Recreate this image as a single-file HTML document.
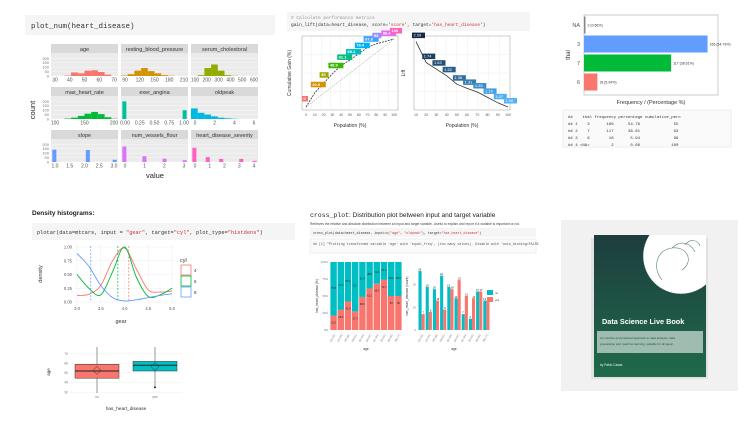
<!DOCTYPE html>
<html><head><meta charset="utf-8"><style>
html,body{margin:0;padding:0;background:#fff;width:750px;height:431px;overflow:hidden}
svg{display:block;font-family:"Liberation Sans",sans-serif}
.mono{font-family:"Liberation Mono",monospace}
.pre text{white-space:pre}
</style></head><body>
<svg id="s" width="750" height="431" viewBox="0 0 750 431">
<!-- Panel 1 -->
<rect x="25" y="15" width="250" height="20" fill="#f5f5f5"/>
<text x="31" y="28" font-size="7.5" class="mono" fill="#333">plot_num(heart_disease)</text>
<g id="p1"></g>
<text x="35" y="110" font-size="7.5" fill="#222" transform="rotate(-90 35 110)" text-anchor="middle">count</text>
<text x="155" y="178" font-size="7.5" fill="#222" text-anchor="middle">value</text>
<!-- Panel 2 -->
<rect x="287" y="12" width="243" height="19" fill="#f5f5f5"/>
<text x="291" y="19" font-size="4.5" class="mono" fill="#999"># Calculate performance metrics</text>
<text x="291" y="26" font-size="4.5" class="mono" fill="#333">gain_lift(data=heart_disease, score='<tspan fill="#c33">score</tspan>', target='<tspan fill="#c33">has_heart_disease</tspan>')</text>
<g id="p2"></g>
<!-- Panel 3 -->
<g id="p3"></g>
<rect x="563" y="110" width="168" height="37" fill="#fafafa" stroke="#eee"/>
<g class="mono pre" font-size="4" fill="#333" xml:space="preserve">
<text x="568" y="118">##    thal frequency percentage cumulative_perc</text>
<text x="568" y="125">## 1    3       166      54.79              55</text>
<text x="568" y="132">## 2    7       117      38.61              93</text>
<text x="568" y="139">## 3    6        18       5.94              99</text>
<text x="568" y="146">## 4 &lt;NA&gt;         2       0.66             100</text>
</g>
<!-- Panel 4 -->
<text x="32" y="215" font-size="6.5" font-weight="bold" fill="#222">Density histograms:</text>
<rect x="32" y="223" width="263" height="17" fill="#f5f5f5"/>
<text x="37" y="234" font-size="5.3" class="mono" fill="#333">plotar(data=mtcars, input = <tspan fill="#c33">"gear"</tspan>, target=<tspan fill="#c33">"cyl"</tspan>, plot_type=<tspan fill="#c33">"histdens"</tspan>)</text>
<g id="p4"></g>
<g id="p5"></g>
<!-- Panel 5 -->
<text x="310" y="217" font-size="6.5" fill="#222"><tspan font-family="Liberation Mono">cross_plot</tspan>: Distribution plot between input and target variable</text>
<text x="310" y="225" font-size="3.3" fill="#444">Retrieves the relative and absolute distribution between an input and target variable. Useful to explain and report if a variable is important or not.</text>
<rect x="310" y="228" width="226" height="9" fill="#f5f5f5"/>
<text x="313" y="234" font-size="3.3" class="mono" fill="#333">cross_plot(data=heart_disease, input=c(<tspan fill="#c33">"age"</tspan>, <tspan fill="#c33">"oldpeak"</tspan>), target=<tspan fill="#c33">"has_heart_disease"</tspan>)</text>
<rect x="310" y="239" width="226" height="14" fill="#fafafa" stroke="#eee"/>
<text x="313" y="245" font-size="3.3" class="mono" fill="#555">## [1] "Plotting transformed variable 'age' with 'equal_freq', (too many values). Disable with 'auto_binning=FALSE</text>
<g id="p6"></g>
<!-- Book -->
<rect x="561" y="220" width="177" height="171" fill="#f1f1f1"/>
<rect x="591" y="238" width="117" height="141" fill="#d9d9d9" opacity="0.6"/>
<defs><linearGradient id="bk" x1="0" y1="0" x2="0" y2="1"><stop offset="0" stop-color="#1e3d3e"/><stop offset="1" stop-color="#1f6a4a"/></linearGradient>
<clipPath id="bc"><rect x="594" y="235" width="112" height="142"/></clipPath></defs>
<rect x="594" y="235" width="112" height="142" fill="url(#bk)"/>
<circle cx="681" cy="256" r="38" fill="#fff" clip-path="url(#bc)"/>
<circle cx="681" cy="256" r="38" fill="none" stroke="#2c5b4c" stroke-width="0.5" clip-path="url(#bc)"/>
<path d="M662 280 C652 268 656 250 672 248 C688 246 694 262 682 270 M672 248 C680 240 690 242 695 252 M685 245 C690 238 698 240 700 246" fill="none" stroke="#5a7f72" stroke-width="0.6"/>
<text x="602" y="324" font-size="7.3" font-weight="bold" fill="#fff">Data Science Live Book</text>
<rect x="597" y="331" width="106" height="22" fill="#b5ccc3" opacity="0.85"/>
<text x="600" y="339" font-size="3" fill="#2f4f45">An intuitive and practical approach to data analysis, data</text>
<text x="600" y="345" font-size="3" fill="#2f4f45">preparation and machine learning, suitable for all ages!</text>
<text x="600" y="366" font-size="3.2" fill="#dfe">by Pablo Casas</text>
</svg>
<script>
const NS="http://www.w3.org/2000/svg";
function E(p,t,a,txt){const e=document.createElementNS(NS,t);for(const k in a)e.setAttribute(k,a[k]);if(txt!==undefined)e.textContent=txt;p.appendChild(e);return e;}

// ---------- Panel 1 data ----------
const facetNames=["age","resting_blood_pressure","serum_cholestoral","max_heart_rate","exer_angina","oldpeak","slope","num_vessels_flour","heart_disease_severity"];
const facetColors=["#f8766d","#d39200","#93aa00","#00ba38","#00c19f","#00b9e3","#619cff","#db72fb","#ff61c3"];
const facetTicks=[["30","40","50","60","70"],["90","120","150","180","210"],["100","200","300","400","500","600"],["100","150","200"],["0.00","0.25","0.50","0.75","1.00"],["0","2","4","6"],["1.0","1.5","2.0","2.5","3.0"],["0","1","2","3"],["0","1","2","3","4"]];
const facetCounts=[
 [0,0,5,40,30,60,65,45,15,0],
 [5,20,60,90,55,30,10,3,0,0],
 [0,10,90,130,60,10,2,0,0,0],
 [0,0,5,15,35,60,80,55,20,3],
 [200,0,0,0,0,0,0,0,0,100],
 [120,70,50,30,15,8,3,0,0,0],
 [140,0,0,0,0,135,0,0,0,25],
 [175,0,0,65,0,0,38,0,0,20],
 [160,0,55,0,35,0,0,35,0,13]];
const facetBarW=[1,1,1,1,0.6,1,0.6,0.6,0.6];
const yTicks1=["0","50","100","150","200"];
const p1=document.getElementById('p1');
const colX=[51,121,191],rowY=[44,87,130],fw=67,pH=23;
facetNames.forEach((n,i)=>{
 const x0=colX[i%3],y0=rowY[Math.floor(i/3)];
 E(p1,'rect',{x:x0,y:y0,width:fw,height:9,fill:'#d9d9d9'});
 E(p1,'text',{x:x0+fw/2,y:y0+6.8,'font-size':5.5,'text-anchor':'middle',fill:'#333'},n);
 E(p1,'rect',{x:x0,y:y0+9,width:fw,height:pH,fill:'#ebebeb'});
 const ys=v=>y0+9+pH-v/260*pH;
 yTicks1.forEach(t=>E(p1,'line',{x1:x0,x2:x0+fw,y1:ys(+t),y2:ys(+t),stroke:'#fff','stroke-width':0.4}));
 const c=facetCounts[i],bw=fw/c.length;
 c.forEach((v,j)=>{if(!v)return;const w=bw*facetBarW[i];
  const r=E(p1,'rect',{x:x0+j*bw+(bw-w)/2,y:ys(v),width:w,height:y0+9+pH-ys(v),fill:facetColors[i]});
  });
 const t=facetTicks[i];
 t.forEach((s,k)=>{const tx=x0+4+k*(fw-8)/(t.length-1);
  E(p1,'text',{x:tx,y:y0+37.5,'font-size':5,'text-anchor':'middle',fill:'#555'},s);});
 if(i%3==0) yTicks1.forEach((s,k)=>E(p1,'text',{x:x0-2,y:ys(+s)+1.5,'font-size':4,'text-anchor':'end',fill:'#777'},s));
});

// ---------- Panel 2 data ----------
const gainPop=[0,10,20,30,40,50,60,70,80,90,100];
const gainVals=[0,20.9,35,48.9,61.1,69.1,78.4,87.8,93,96.4,100];
const gainLabels=["0","20.9","35","48.9","61.1","69.1","78.4","87.8","93","96.4","100"];
const gainColors=["#f8766d","#d89000","#a3a500","#39b600","#00bf7d","#00bfc4","#00b0f6","#35a2ff","#9590ff","#e76bf3","#ff62bc"];
const liftPop=[10,20,30,40,50,60,70,80,90,100];
const liftVals=[2.09,1.74,1.63,1.52,1.38,1.31,1.25,1.16,1.07,1];
const liftColors=["#132b43","#1d3f5e","#244e72","#2a5d87","#316d9c","#387db2","#3e8dc8","#469ede","#4eb0f4","#56b1f7"];
const p2=document.getElementById('p2');
function plotFrame(g,x,y,w,h,nx,ny){E(g,'rect',{x,y,width:w,height:h,fill:'#fff',stroke:'#999','stroke-width':0.5});
 for(let i=1;i<nx;i++)E(g,'line',{x1:x+i*w/nx,x2:x+i*w/nx,y1:y,y2:y+h,stroke:'#eee','stroke-width':0.5});
 for(let i=1;i<ny;i++)E(g,'line',{x1:x,x2:x+w,y1:y+i*h/ny,y2:y+i*h/ny,stroke:'#eee','stroke-width':0.5});}
{const X=v=>306+v/100*88,Y=v=>107-v/100*68;
 plotFrame(p2,302,36,96,74,10,4);
 E(p2,'line',{x1:X(0),y1:Y(0),x2:X(100),y2:Y(100),stroke:'#888','stroke-width':0.5,'stroke-dasharray':'1.5,1'});
 E(p2,'polyline',{points:gainPop.map((p,i)=>X(p)+','+Y(gainVals[i])).join(' '),fill:'none',stroke:'#333','stroke-width':0.8,'stroke-dasharray':'2,1'});
 gainPop.forEach((p,i)=>{const lx=X(p)-3,ly=Y(gainVals[i])-7;
  const r=E(p2,'rect',{x:lx-1,y:ly-4,width:gainLabels[i].length*3+3,height:5.5,fill:gainColors[i]});
  
  E(p2,'text',{x:lx+0.5,y:ly,'font-size':4,fill:'#fff','font-weight':'bold'},gainLabels[i]);});
 gainPop.forEach(p=>E(p2,'text',{x:X(p),y:116,'font-size':3.5,'text-anchor':'middle',fill:'#555'},p));
 E(p2,'text',{x:350,y:127,'font-size':5,'text-anchor':'middle',fill:'#333'},'Population (%)');
 E(p2,'text',{x:291,y:73,'font-size':5,'text-anchor':'middle',fill:'#333',transform:'rotate(-90 291 73)'},'Cumulative Gain (%)');}
{const X=v=>416+(v-10)/90*92,Y=v=>107-(v-1)/1.1*66;
 plotFrame(p2,414,36,96,74,9,4);
 E(p2,'polyline',{points:liftPop.map((p,i)=>X(p)+','+Y(liftVals[i])).join(' '),fill:'none',stroke:'#333','stroke-width':0.8});
 liftPop.forEach((p,i)=>{const lx=X(p)-3,ly=Y(liftVals[i])-5;const s=liftVals[i].toFixed(2);
  const r=E(p2,'rect',{x:lx-1,y:ly-4,width:13,height:5.5,fill:liftColors[i]});
  
  E(p2,'text',{x:lx+0.5,y:ly,'font-size':4,fill:'#fff'},s);});
 liftPop.forEach(p=>E(p2,'text',{x:X(p),y:116,'font-size':3.5,'text-anchor':'middle',fill:'#555'},p));
 E(p2,'text',{x:462,y:127,'font-size':5,'text-anchor':'middle',fill:'#333'},'Population (%)');
 E(p2,'text',{x:405,y:73,'font-size':5,'text-anchor':'middle',fill:'#333',transform:'rotate(-90 405 73)'},'Lift');}

// ---------- Panel 3 data ----------
const thalCats=["NA","3","7","6"];
const thalFreq=[2,166,117,18];
const thalLabels=["2 (0.66%)","166 (54.79%)","117 (38.61%)","18 (5.94%)"];
const thalColors=["#888","#619cff","#00ba38","#f8766d"];
const p3=document.getElementById('p3');
{const x0=584,y0=15,w=134,h=80,X=v=>x0+v/180*w,bh=17;
 E(p3,'rect',{x:x0,y:y0,width:w,height:h,fill:'#fff',stroke:'#aaa','stroke-width':0.6});
 thalCats.forEach((c,i)=>{const yc=y0+10+i*19;
  const r=E(p3,'rect',{x:x0,y:yc-bh/2,width:Math.max(X(thalFreq[i])-x0,0.8),height:bh,fill:thalColors[i]});
  
  E(p3,'text',{x:X(thalFreq[i])+2,y:yc+1.5,'font-size':3.5,fill:'#333'},thalLabels[i]);
  E(p3,'text',{x:x0-4,y:yc+2,'font-size':5.5,'text-anchor':'end',fill:'#555'},c);});
 E(p3,'text',{x:570,y:55,'font-size':6,'text-anchor':'middle',fill:'#333',transform:'rotate(-90 570 55)'},'thal');
 E(p3,'text',{x:651,y:104,'font-size':5.5,'text-anchor':'middle',fill:'#333'},'Frequency / (Percentage %)');}

// ---------- Panel 4 density ----------
const gearX=[3.0,3.25,3.5,3.75,4.0,4.25,4.5,4.75,5.0];
const dens4=[0.12,0.14,0.3,0.75,0.98,0.6,0.22,0.18,0.2];
const dens6=[0.5,0.25,0.13,0.55,1.0,0.45,0.1,0.13,0.25];
const dens8=[0.88,0.65,0.3,0.08,0.02,0.04,0.08,0.12,0.15];
const densMeans=[4.09,3.86,3.29];
const densColors=["#f8766d","#00ba38","#619cff"];
const densTicks=["0.00","0.25","0.50","0.75","1.00"];
const gearTicks=["3.0","3.5","4.0","4.5","5.0"];
const p4=document.getElementById('p4');
{const X=v=>77+(v-3)/2*95,Y=v=>302-v*55;
 E(p4,'rect',{x:75,y:244,width:99,height:60,fill:'#fff'});
 densTicks.forEach(t=>{E(p4,'line',{x1:75,x2:174,y1:Y(+t),y2:Y(+t),stroke:'#eee','stroke-width':0.5});
  E(p4,'text',{x:72,y:Y(+t)+1.5,'font-size':4.2,'text-anchor':'end',fill:'#555'},t);});
 gearTicks.forEach(t=>{E(p4,'line',{x1:X(+t),x2:X(+t),y1:244,y2:304,stroke:'#eee','stroke-width':0.5});
  E(p4,'text',{x:X(+t),y:310,'font-size':4.2,'text-anchor':'middle',fill:'#555'},t);});
 [dens4,dens6,dens8].forEach((d,k)=>{
  const P=d.map((v,i)=>[X(gearX[i]),Y(v)]);let s='M'+P[0][0]+','+P[0][1];
  for(let i=0;i<P.length-1;i++){const p0=P[Math.max(i-1,0)],p1=P[i],p2=P[i+1],p3=P[Math.min(i+2,P.length-1)];
   s+=' C'+(p1[0]+(p2[0]-p0[0])/6)+','+(p1[1]+(p2[1]-p0[1])/6)+' '+(p2[0]-(p3[0]-p1[0])/6)+','+(p2[1]-(p3[1]-p1[1])/6)+' '+p2[0]+','+p2[1];}
  const p=E(p4,'path',{d:s,fill:'none',stroke:densColors[k],'stroke-width':0.9});
  
  E(p4,'line',{x1:X(densMeans[k]),x2:X(densMeans[k]),y1:246,y2:302,stroke:densColors[k],'stroke-width':0.7,'stroke-dasharray':'2,1.5'});});
 E(p4,'text',{x:42,y:274,'font-size':5.5,'text-anchor':'middle',fill:'#333',transform:'rotate(-90 42 274)'},'density');
 E(p4,'text',{x:121,y:323,'font-size':5.5,'text-anchor':'middle',fill:'#333'},'gear');
 E(p4,'text',{x:180,y:262,'font-size':5.5,fill:'#333'},'cyl');
 ["4","6","8"].forEach((c,k)=>{E(p4,'rect',{x:181,y:265+k*11,width:10,height:10,fill:'#fff',stroke:densColors[k],'stroke-width':0.8});
  E(p4,'text',{x:194,y:272+k*11,'font-size':4.5,fill:'#333'},c);});}

// ---------- boxplot ----------
const boxCats=["no","yes"];
const boxQ1=[44.5,52],boxMed=[52,58],boxQ3=[59,62],boxMin=[29,35],boxMax=[77,77],boxMean=[52.6,56.6];
const boxColors=["#f8766d","#00bfc4"];
const ageTicks=["30","40","50","60","70"];
const p5=document.getElementById('p5');
{const Y=v=>395-(v-27)/50*48,X=i=>97+i*58;
 ageTicks.forEach(t=>{E(p5,'line',{x1:70,x2:182,y1:Y(+t),y2:Y(+t),stroke:'#eee','stroke-width':0.5});
  E(p5,'text',{x:68,y:Y(+t)+1.2,'font-size':3.3,'text-anchor':'end',fill:'#777'},t);});
 boxCats.forEach((c,i)=>{const x=X(i);
  E(p5,'line',{x1:x,x2:x,y1:Y(boxMax[i]),y2:Y(boxMin[i]),stroke:'#555','stroke-width':0.6});
  const r=E(p5,'rect',{x:x-22,y:Y(boxQ3[i]),width:44,height:Y(boxQ1[i])-Y(boxQ3[i]),fill:boxColors[i],stroke:'#333','stroke-width':0.5});
  
  E(p5,'line',{x1:x-22,x2:x+22,y1:Y(boxMed[i]),y2:Y(boxMed[i]),stroke:'#222','stroke-width':0.9});
  const m=Y(boxMean[i]);E(p5,'path',{d:`M${x} ${m-4}L${x+4} ${m}L${x} ${m+4}L${x-4} ${m}Z`,fill:'none',stroke:'#222','stroke-width':0.5});
  E(p5,'text',{x:x,y:398,'font-size':3.3,'text-anchor':'middle',fill:'#777'},c);});
 E(p5,'circle',{cx:X(1),cy:Y(boxMin[1]),r:1,fill:'#222'});
 E(p5,'text',{x:50,y:372,'font-size':4.5,'text-anchor':'middle',fill:'#333',transform:'rotate(-90 50 372)'},'age');
 E(p5,'text',{x:126,y:410,'font-size':4.8,'text-anchor':'middle',fill:'#333'},'has_heart_disease');}

// ---------- Panel 5 cross plot ----------
const ageBins=["[29,42)","[42,45)","[45,48)","[48,51)","[51,54)","[54,57)","[57,59)","[59,62)","[62,65)","[65,77]"];
const pctYes=[21.2,29.6,41.8,27.3,48.6,61.1,68.2,73.7,50,50];
const cntNo=[26,19,18,24,19,14,7,5,17,13];
const cntYes=[7,8,13,9,18,22,15,14,17,13];
const p6=document.getElementById('p6');
{const x0=330,w=72,y0=262,h=68,bw=w/ageBins.length;
 E(p6,'text',{x:318,y:296,'font-size':3.3,'text-anchor':'middle',fill:'#333',transform:'rotate(-90 318 296)'},'has_heart_disease (%)');
 ["0%","25%","50%","75%","100%"].forEach((t,k)=>E(p6,'text',{x:x0-2,y:y0+h-k*h/4+1,'font-size':2.8,'text-anchor':'end',fill:'#777'},t));
 ageBins.forEach((b,i)=>{const x=x0+i*bw,hy=pctYes[i]/100*h;
  const a=E(p6,'rect',{x:x+0.4,y:y0,width:bw-0.8,height:h-hy,fill:'#00bfc4'});
  
  const r=E(p6,'rect',{x:x+0.4,y:y0+h-hy,width:bw-0.8,height:hy,fill:'#f8766d'});
  
  E(p6,'text',{x:x+bw/2,y:y0+h-hy+8,'font-size':2.6,'text-anchor':'middle',fill:'#222'},pctYes[i]);
  E(p6,'text',{x:x+bw/2,y:y0+(h-hy)/2,'font-size':2.6,'text-anchor':'middle',fill:'#222'},(100-pctYes[i]).toFixed(1));
  E(p6,'text',{x:x+bw/2,y:y0+h+6,'font-size':2.6,'text-anchor':'end',fill:'#777',transform:`rotate(-60 ${x+bw/2} ${y0+h+4})`},b);});
 E(p6,'text',{x:366,y:350,'font-size':3.3,'text-anchor':'middle',fill:'#333'},'age');}
{const x0=418,w=72,y0=262,h=68,bw=w/ageBins.length,Y=v=>y0+h-v/30*h;
 E(p6,'text',{x:408,y:296,'font-size':3.3,'text-anchor':'middle',fill:'#333',transform:'rotate(-90 408 296)'},'has_heart_disease (count)');
 ["0","10","20"].forEach(t=>E(p6,'text',{x:x0-2,y:Y(+t)+1,'font-size':2.8,'text-anchor':'end',fill:'#777'},t));
 ageBins.forEach((b,i)=>{const x=x0+i*bw;
  const a=E(p6,'rect',{x:x+0.5,y:Y(cntNo[i]),width:bw/2-0.5,height:y0+h-Y(cntNo[i]),fill:'#00bfc4'});
  
  const r=E(p6,'rect',{x:x+bw/2,y:Y(cntYes[i]),width:bw/2-0.5,height:y0+h-Y(cntYes[i]),fill:'#f8766d'});
  
  E(p6,'text',{x:x+bw/4,y:Y(cntNo[i])-0.5,'font-size':2.6,'text-anchor':'middle',fill:'#222'},cntNo[i]);
  E(p6,'text',{x:x+bw*0.75,y:Y(cntYes[i])-0.5,'font-size':2.6,'text-anchor':'middle',fill:'#222'},cntYes[i]);
  E(p6,'text',{x:x+bw/2,y:y0+h+6,'font-size':2.6,'text-anchor':'end',fill:'#777',transform:`rotate(-60 ${x+bw/2} ${y0+h+4})`},b);});
 E(p6,'text',{x:454,y:350,'font-size':3.3,'text-anchor':'middle',fill:'#333'},'age');
 E(p6,'rect',{x:487,y:290,width:6,height:5,fill:'#00bfc4'});E(p6,'text',{x:495,y:294,'font-size':2.6,fill:'#333'},'no');
 E(p6,'rect',{x:487,y:297,width:6,height:5,fill:'#f8766d'});E(p6,'text',{x:495,y:301,'font-size':2.6,fill:'#333'},'yes');}
</script>
</body></html>
